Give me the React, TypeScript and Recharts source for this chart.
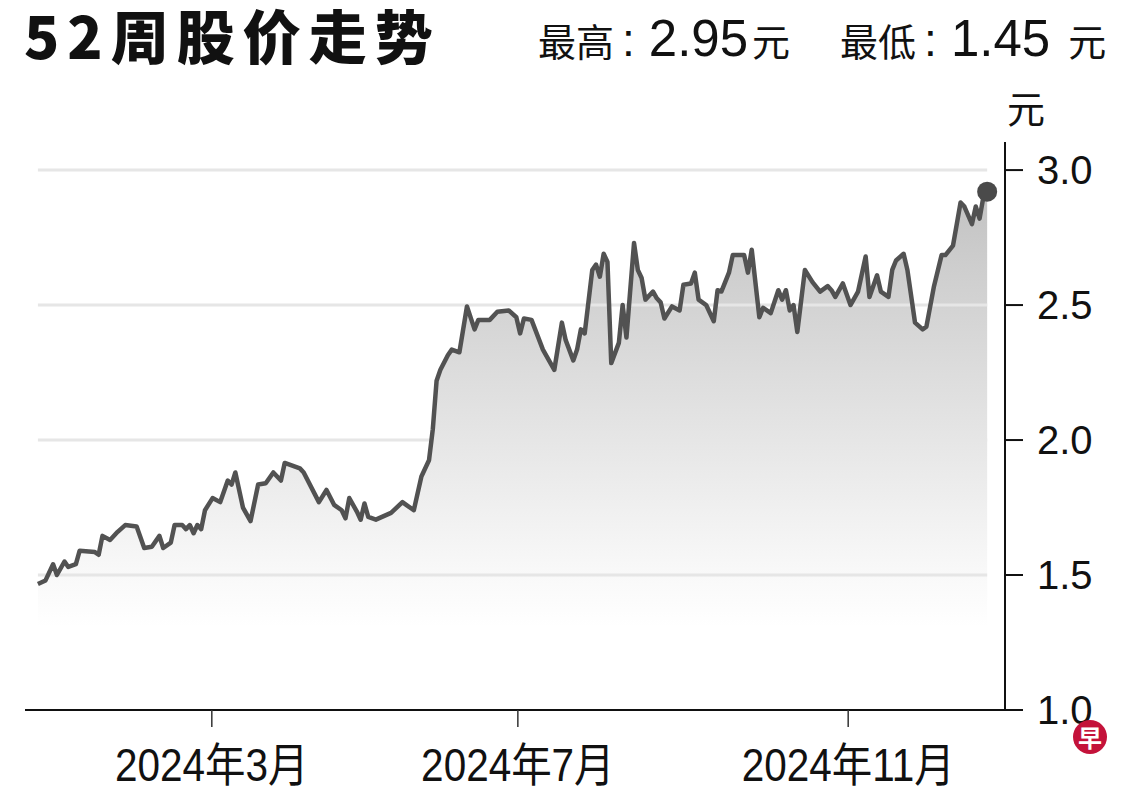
import * as React from "react";
import {
  ComposedChart,
  Area,
  Line,
  XAxis,
  YAxis,
  ReferenceLine,
  ReferenceDot,
} from "recharts";

// trading-day index (0 = first day of the 52-week window) and closing price
const days = [
  0, 2, 4, 5, 7, 8, 10, 11, 15, 16, 17, 19, 21, 23, 26, 28, 30, 32, 33, 35,
  36, 38, 39, 40, 41, 42, 43, 44, 46, 48, 50, 51, 52, 54, 56, 58, 60, 62, 64,
  65, 69, 70, 74, 76, 78, 80, 81, 82, 84, 85, 86, 87, 89, 93, 96, 97, 99, 101,
  103, 104, 105, 106, 108, 109, 111, 112, 113, 115, 116, 119, 121, 124, 126,
  127, 128, 130, 133, 136, 138, 139, 141, 142, 143, 144, 146, 147, 148, 149,
  150, 151, 153, 154, 155, 157, 158, 159, 160, 162, 163, 164, 165, 167, 169,
  170, 172, 173, 174, 176, 178, 179, 180, 182, 183, 186, 187, 188, 190, 191,
  193, 195, 196, 197, 198, 199, 200, 202, 204, 206, 208, 209, 210, 212, 214,
  216, 218, 219, 221, 222, 224, 225, 226, 228, 229, 231, 233, 234, 236, 238,
  239, 241, 242, 243, 244, 246, 247, 248, 249, 250,
];

const prices = [
  1.467, 1.48, 1.54, 1.5, 1.55, 1.53, 1.54, 1.59, 1.585, 1.575, 1.645, 1.63,
  1.66, 1.685, 1.68, 1.6, 1.605, 1.645, 1.6, 1.62, 1.685, 1.685, 1.67, 1.685,
  1.655, 1.685, 1.67, 1.74, 1.785, 1.77, 1.85, 1.835, 1.88, 1.75, 1.7, 1.835,
  1.84, 1.88, 1.85, 1.915, 1.895, 1.88, 1.77, 1.815, 1.76, 1.74, 1.71, 1.785,
  1.735, 1.705, 1.765, 1.715, 1.705, 1.73, 1.77, 1.76, 1.74, 1.865, 1.925,
  2.04, 2.22, 2.26, 2.315, 2.335, 2.325, 2.41, 2.495, 2.41, 2.445, 2.445,
  2.475, 2.48, 2.455, 2.395, 2.45, 2.445, 2.335, 2.26, 2.435, 2.37, 2.295,
  2.335, 2.41, 2.395, 2.63, 2.65, 2.605, 2.69, 2.66, 2.285, 2.36, 2.5, 2.38,
  2.73, 2.63, 2.6, 2.52, 2.55, 2.525, 2.51, 2.45, 2.495, 2.48, 2.575, 2.58,
  2.62, 2.52, 2.5, 2.44, 2.555, 2.55, 2.62, 2.685, 2.685, 2.62, 2.705, 2.455,
  2.49, 2.47, 2.555, 2.52, 2.555, 2.48, 2.5, 2.4, 2.63, 2.585, 2.55, 2.57,
  2.555, 2.53, 2.58, 2.5, 2.55, 2.68, 2.53, 2.61, 2.55, 2.53, 2.63, 2.665,
  2.69, 2.63, 2.435, 2.41, 2.42, 2.57, 2.685, 2.685, 2.72, 2.8, 2.88, 2.865,
  2.8, 2.865, 2.82, 2.9, 2.92,
];

const monthTicks = [45.8, 126.4, 213.4];
const monthLabels = ["2024年3月", "2024年7月", "2024年11月"];
const priceTicks = [1.0, 1.5, 2.0, 2.5, 3.0];
const gridLevels = [1.5, 2.0, 2.5, 3.0];

const data = days.map((d, i) => ({ d, v: prices[i] }));
const lastDay = days[days.length - 1];
const lastPrice = prices[prices.length - 1];

const latin = "'Liberation Sans', 'Noto Sans CJK SC', sans-serif";
const cjk = "'Noto Sans CJK SC', 'Liberation Sans', sans-serif";

// condensed month label, like the newspaper's narrow face
function MonthTick(props: any) {
  const { x, y, payload } = props;
  const label = monthLabels[monthTicks.indexOf(payload.value)];
  return (
    <g transform={`translate(${x},${y})`}>
      <text
        transform="scale(0.88,1)"
        textAnchor="middle"
        dy="0.71em"
        fontFamily={latin}
        fontSize={46}
        fill="#111"
      >
        {label}
      </text>
    </g>
  );
}

export default function App() {
  return (
    <div
      style={{
        position: "absolute",
        left: 0,
        top: 0,
        width: 1140,
        height: 786,
        background: "#fff",
        overflow: "hidden",
        color: "#111",
      }}
    >
      <div
        style={{
          position: "absolute",
          left: 24,
          top: 5,
          fontFamily: cjk,
          fontWeight: 900,
          fontSize: 58,
          lineHeight: 1,
          letterSpacing: 8,
          whiteSpace: "nowrap",
        }}
      >
        52周股价走势
      </div>
      <div
        style={{
          position: "absolute",
          left: 538,
          top: 14,
          fontFamily: cjk,
          fontSize: 38,
          lineHeight: "50px",
          whiteSpace: "nowrap",
        }}
      >
        最高
        <span style={{ fontFamily: latin, fontSize: 46, margin: "0 14px 0 8px" }}>:</span>
        <span style={{ fontFamily: latin, fontSize: 51, marginRight: 4 }}>2.95</span>元
        <span style={{ display: "inline-block", width: 50 }} />
        最低
        <span style={{ fontFamily: latin, fontSize: 46, margin: "0 14px 0 8px" }}>:</span>
        <span style={{ fontFamily: latin, fontSize: 51, marginRight: 4 }}>1.45 </span>元
      </div>
      <div
        style={{
          position: "absolute",
          left: 1007,
          top: 88,
          fontFamily: cjk,
          fontSize: 38,
          lineHeight: 1,
        }}
      >
        元
      </div>

      <ComposedChart
        width={1140}
        height={786}
        data={data}
        margin={{ top: 142, right: 35, bottom: 16, left: 25 }}
        style={{ position: "absolute", left: 0, top: 0 }}
      >
        <defs>
          <linearGradient id="priceFill" x1="0" y1="0" x2="0" y2="1">
            <stop offset="0" stopColor="#c2c2c2" />
            <stop offset="0.15" stopColor="#cecece" />
            <stop offset="0.3" stopColor="#d9d9d9" />
            <stop offset="0.48" stopColor="#e6e6e6" />
            <stop offset="0.63" stopColor="#f1f1f1" />
            <stop offset="0.74" stopColor="#f9f9f9" />
            <stop offset="0.84" stopColor="#ffffff" />
            <stop offset="1" stopColor="#ffffff" />
          </linearGradient>
        </defs>
        <XAxis
          dataKey="d"
          type="number"
          domain={[-3.4, 254.7]}
          ticks={monthTicks}
          height={60}
          tickSize={17}
          tickMargin={21}
          axisLine={{ stroke: "#111", strokeWidth: 2 }}
          tickLine={{ stroke: "#333", strokeWidth: 1.5 }}
          tick={<MonthTick />}
          interval={0}
        />
        <YAxis
          orientation="right"
          type="number"
          domain={[1, 3.104]}
          allowDataOverflow
          ticks={priceTicks}
          tickFormatter={(v: number) => v.toFixed(1)}
          width={100}
          tickSize={18}
          tickMargin={14}
          axisLine={{ stroke: "#111", strokeWidth: 2 }}
          tickLine={{ stroke: "#111", strokeWidth: 2 }}
          tick={{ fontFamily: latin, fontSize: 40, fill: "#111" }}
          interval={0}
        />
        <Area
          type="linear"
          dataKey="v"
          stroke="none"
          fill="url(#priceFill)"
          fillOpacity={1}
          isAnimationActive={false}
          baseValue={1}
        />
        {gridLevels.map((g) => (
          <ReferenceLine
            key={g}
            segment={[
              { x: 0, y: g },
              { x: lastDay, y: g },
            ]}
            stroke="#e6e6e6"
            strokeWidth={3}
            zIndex={150}
          />
        ))}
        <Line
          type="linear"
          dataKey="v"
          stroke="#525252"
          strokeWidth={4.5}
          strokeLinejoin="round"
          dot={false}
          activeDot={false}
          isAnimationActive={false}
        />
        <ReferenceDot
          x={lastDay}
          y={lastPrice}
          r={10}
          fill="#4a4a4a"
          stroke="none"
          zIndex={600}
        />
      </ComposedChart>

      <div
        style={{
          position: "absolute",
          left: 1073,
          top: 720,
          width: 34,
          height: 34,
          borderRadius: 17,
          background: "#c4123a",
          color: "#fff",
          fontFamily: cjk,
          fontWeight: 700,
          fontSize: 24,
          lineHeight: "34px",
          textAlign: "center",
        }}
      >
        早
      </div>
    </div>
  );
}
